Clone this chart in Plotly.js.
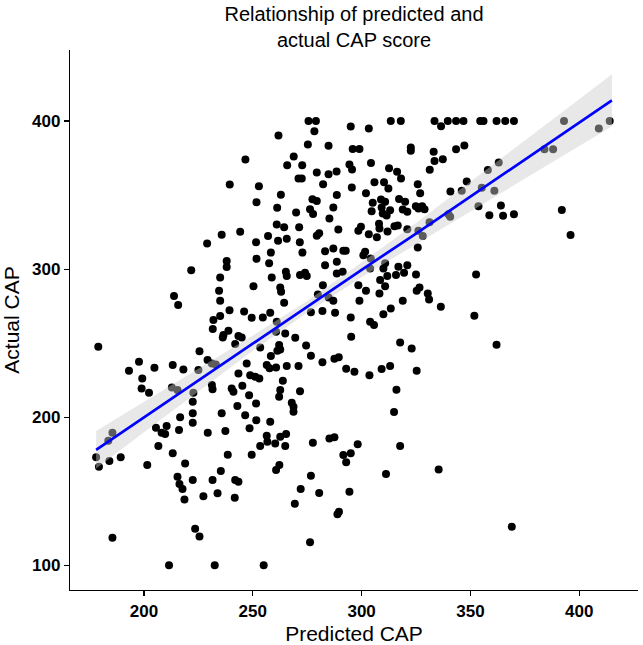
<!DOCTYPE html>
<html>
<head>
<meta charset="utf-8">
<script src="https://cdn.plot.ly/plotly-3.0.1.min.js"></script>
<style>html,body{margin:0;padding:0;background:#fff;}</style>
</head>
<body>
<div id="chart" style="width:643px;height:645px"></div>
<script>
// Predicted vs actual CAP (one value per subject)
const predicted = [
  // upper-left cluster
  275.6,279,278.3,261.8,275.3,284.8,246.6,268.8,265.8,272.7,
  279.4,284.8,271,272.5,282.3,239.4,252.8,262.9,251.7,277.4,
  279.4,261.2,269.9,276.3,277.7,285.2,261,264.4,271.3,235.7,
  244.2,229,257,261.6,265.6,271.6,279.4,280.5,251.5,258.3,
  272.8,283.2,251.7,
  // upper-right cluster
  295,303.3,313.4,318,333.5,336.5,339.6,343.4,346.8,354.5,
  356,295.9,299,322.6,322.6,347.2,343.4,333.1,333.5,337.3,
  304.3,294.4,295.6,288.5,312.6,316.3,318.1,331.3,348.3,305.9,
  310.3,295.5,312.3,325.8,302,288.6,326.9,340.8,346,355.2,
  305.1,308.9,310.8,317.2,320,324.9,327.8,326.1,328.9,287,
  304.6,309.2,313.1,309.7,311.5,318.9,321,353.7,358.7,289.3,
  299.7,298.5,308,308.2,315.1,316.6,303.3,307,311.9,321,
  326.1,328.1,331.2,339.9,340.7,325.8,287,291.6,292.7,301.6,
  300.8,304.2,
  // middle-left
  221.7,238,238,257.5,265.2,265.6,271.7,274,274.8,283.2,
  235,258.7,262.6,263,250.3,213.8,215.7,234.5,235,264.4,
  282.2,279.9,284.8,239.3,246,249.5,254.6,258,261,276.7,
  282,231.9,231.6,235,236.5,238.8,236.2,243.4,244.9,241.9,
  253.4,260.7,264.9,269.5,274.5,282,276.7,262.1,262.6,261.3,
  258.3,225.5,229.2,231.2,233,213.2,218.1,225,247.2,243.4,
  248.8,251.1,253,256.4,257.7,260.7,265.6,271,263.8,212.8,
  215.4,222.7,231.2,231.5,240.3,241.1,245.2,248.3,262.6,262.1,
  271.7,222.4,222.4,242.9,251.5,267.9,268.7,268.7,235.7,246.5,
  216.6,
  // middle-right
  288.6,303.9,310,310.8,316.9,321,288.6,291.3,311.8,315.8,
  319.5,325,352.6,298.5,308.5,310.8,308.2,302,326.6,325.3,
  330.4,331,287,287.8,299,318.9,336.4,313.4,310,295,
  303.9,305.7,351.8,295.2,317.7,323,287.5,289.5,292.9,296.7,
  303.6,309.2,313.1,325.3,316,314.9,
  // lower-left
  222.4,216.1,229.3,237.4,248.5,251.6,258,256.4,262.6,265.3,
  256.7,260.3,264.9,253.4,277.6,285.2,213.2,238.5,249.5,218.9,
  235.3,262.2,260.7,276.7,215.4,216.3,217.7,222.4,231.5,241.9,
  243.4,218.6,227.3,233.8,241.7,272,280.5,269.3,223.5,225.5,
  276.3,211.5,232.5,255,
  // lower-right
  287.5,298.2,317.7,291.6,295,292.9,311.2,335.4,294.4,288.9,
  289.6,
  // far left
  179,193.1,197.7,199.2,198.9,202.3,204.8,185.5,183.6,178,
  179.3,184.1,189.3,205.5,208.1,209.7,210.4,206.6,201.5,185.5,
  // far right
  362,366,370,358,363,361,364,365,370,384,
  388,392,396,393,409,414,362,369
];
const actual = [
  400,400,393.2,390.2,384.2,383.3,374,376,370.2,370.2,
  365.3,364.1,361.2,361.2,357.4,357.2,356,350.2,345.2,347.2,
  346.1,341.4,338.2,340.5,337.3,334.2,330.1,328.3,328.3,323.2,
  325.2,317.3,322.3,319.1,320.5,318.2,322.5,324.3,318.2,311.2,
  311.2,312.1,307,

  396.3,395,400,400,400,396.5,400,400,400,400,
  400,381.2,381.2,382.1,379.9,383.5,381,379.2,373.1,374.3,
  371.6,370.7,367.3,366,368.2,365.7,361.2,367.1,359.2,358.7,
  358.7,355.1,354.4,357.4,351.3,350,351.3,352.4,353,354.9,
  344.8,347,345.5,347.3,345.5,342.5,342.5,341,340.5,341.6,
  339.1,341.6,339.8,337.6,336.2,340.3,338.7,342.5,336.4,326.8,
  328.6,325.9,330.6,327.4,329,329.5,323.6,321.6,325.4,327,
  325.9,322.3,331.7,337.1,335.3,314.6,313.9,312.4,312.4,311.7,
  309.4,307.2,

  299.3,305.5,301.5,303.9,298.2,295.3,296,297.5,295.3,302.7,
  294.4,294.4,287.6,284.7,288.5,281.8,275.7,285.4,278.6,277.3,
  289.2,282.9,280.9,272.3,271.4,267.2,267.4,270.5,264.5,270.8,
  271.7,265.6,259.5,268.3,255.5,258.4,253.9,254.8,253.9,249.4,
  247.1,257.7,256.6,253.6,248.5,237.2,241.5,248.7,245.8,244.9,
  241.3,244.6,238.6,236.3,235.6,235.2,232.3,231.8,236.3,229.6,
  228.4,227.3,226.2,235.2,233,233.6,234.5,234.5,224.6,220.1,
  218.3,216.5,221.7,218.8,219.4,217.2,221.2,214.9,218.3,213.8,
  217.6,210.4,202.6,207.5,209.3,209.8,207.1,203.7,202.6,201.4,
  199.9,

  305,300.5,300.5,303.9,301.6,302.7,297.1,298.2,295.3,296,
  297.5,296.4,296.4,289.2,292.6,288.5,283.6,285.4,287.6,285.4,
  283.6,279.5,278.6,270.5,278.6,278.6,274.6,273.5,269.6,267.4,
  264.5,262.2,268.5,254.3,250.5,246.4,239.5,240.5,232.7,230.7,
  228.4,232.5,234.5,231.4,218.5,203.5,

  196.3,191.3,189.5,190.7,192.5,198,197,187.5,186.8,188.6,
  183.5,182.3,180.5,180.5,182.8,185.7,175.6,174.7,174.7,168.8,
  163.7,167.7,164.3,160.5,159.8,154.9,151.5,157.6,157.6,157.6,
  156.4,144.5,146.6,148.6,145.6,151.5,148.8,141.6,124.7,119.5,
  115.5,100,100,100,

  186.5,181.7,180.5,174.5,175.6,169.5,161.6,164.6,149.7,134.4,
  136.2,

  247.6,231.4,237.5,226.2,219.4,216.5,233.4,189.5,184.1,172.9,
  166.6,170.4,172.9,192.9,189.5,188.6,194,180.5,167.7,118.6,

  400,400,400,367,372,353,343,336,337,381,
  381,340,323,400,395,400,249,126
];

// Linear fit and its confidence band
const fitX = [178, 200, 225, 250, 275, 300, 325, 350, 375, 400, 415];
const fitY = [178, 200, 225, 250, 274.5, 299.5, 324, 349, 374, 399, 414];
const bandLow = [165.3, 189.8, 217.6, 244.9, 270.5, 294.6, 316.8, 339.1, 361.2, 383.2, 396.4];
const bandHigh = [190.7, 210.2, 232.4, 255.1, 278.5, 304.4, 331.2, 358.9, 386.8, 414.8, 431.6];

const xTicks = [200, 250, 300, 350, 400];
const yTicks = [100, 200, 300, 400];

const points = {
  x: predicted, y: actual,
  type: 'scatter', mode: 'markers',
  marker: { color: '#000000', size: 8, line: { width: 0 } },
  hoverinfo: 'skip'
};

// band drawn over the points so the ones inside turn grey
const band = {
  x: fitX.concat(fitX.slice().reverse()),
  y: bandHigh.concat(bandLow.slice().reverse()),
  type: 'scatter', mode: 'lines',
  fill: 'toself', fillcolor: 'rgba(205,205,205,0.45)',
  line: { width: 0 },
  hoverinfo: 'skip'
};

const fitLine = {
  x: fitX, y: fitY,
  type: 'scatter', mode: 'lines',
  line: { color: '#0000FF', width: 2.7 },
  hoverinfo: 'skip'
};

const axisCommon = {
  showline: true, linecolor: '#000', linewidth: 1.2,
  ticks: 'outside', ticklen: 5, tickwidth: 1.2, tickcolor: '#000',
  showgrid: false, zeroline: false,
  tickfont: { size: 17, weight: 'bold', color: '#000' }
};

const layout = {
  width: 643, height: 645,
  margin: { l: 70, r: 5, t: 50, b: 55 },
  paper_bgcolor: '#ffffff', plot_bgcolor: '#ffffff',
  showlegend: false,
  font: { family: 'Liberation Sans, Arial, sans-serif', color: '#000' },
  title: {
    text: 'Relationship of predicted and<br>actual CAP score',
    font: { size: 20, color: '#000' },
    x: 0.5, xref: 'paper', xanchor: 'center',
    y: 0.968, yref: 'container', yanchor: 'top'
  },
  xaxis: {
    ...axisCommon,
    range: [166, 427],
    tickvals: xTicks,
    title: { text: 'Predicted CAP', font: { size: 21 }, standoff: 10 }
  },
  yaxis: {
    ...axisCommon,
    range: [83.3, 448],
    tickvals: yTicks,
    title: { text: 'Actual CAP', font: { size: 21 }, standoff: 8 }
  }
};

Plotly.newPlot('chart', [points, band, fitLine], layout, { displayModeBar: false, staticPlot: true });
</script>
</body>
</html>
